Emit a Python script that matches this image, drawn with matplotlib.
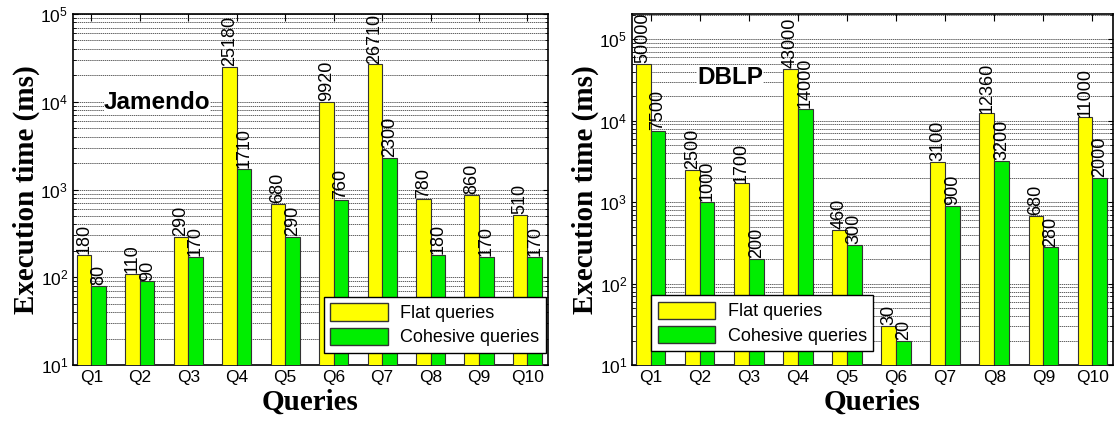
import numpy as np
from matplotlib import pyplot as plt
from matplotlib.patches import Patch

queries = ["Q1", "Q2", "Q3", "Q4", "Q5", "Q6", "Q7", "Q8", "Q9", "Q10"]
jamendo_flat = [180, 110, 290, 25180, 680, 9920, 26710, 780, 860, 510]
jamendo_cohesive = [80, 90, 170, 1710, 290, 760, 2300, 180, 170, 170]
dblp_flat = [50000, 2500, 1700, 43000, 460, 30, 3100, 12360, 680, 11000]
dblp_cohesive = [7500, 1000, 200, 14000, 300, 20, 900, 3200, 280, 2000]

plt.rcParams["font.family"] = ["Liberation Sans", "DejaVu Sans"]

YELLOW = "#ffff00"
GREEN = "#00ee00"
W = 0.3


def draw(ax, flat, cohesive, name, name_xy, ylim, leg_anchor):
    x = np.arange(1, len(queries) + 1)
    ax.bar(x - W / 2, flat, W, color=YELLOW, edgecolor="#333333", linewidth=0.8, zorder=3)
    ax.bar(x + W / 2, cohesive, W, color=GREEN, edgecolor="#333333", linewidth=0.8, zorder=3)
    for xi, v in zip(x, flat):
        ax.text(xi - W / 2, v * 1.02, str(v), rotation=90, ha="center", va="bottom", fontsize=13, zorder=4)
    for xi, v in zip(x, cohesive):
        ax.text(xi + W / 2, v * 1.02, str(v), rotation=90, ha="center", va="bottom", fontsize=13, zorder=4)
    ax.set_yscale("log")
    ax.set_ylim(ylim)
    ax.set_xlim(0.62, 10.42)
    ax.set_xticks(x)
    ax.set_xticklabels(queries, fontsize=12.5)
    ax.tick_params(axis="y", labelsize=12.5)
    ax.tick_params(which="both", direction="in", top=True, right=True)
    ax.tick_params(axis="x", length=5)
    ax.yaxis.grid(True, which="both", color="#222222", linestyle=(0, (2, 1)), linewidth=0.5, zorder=0)
    for s in ax.spines.values():
        s.set_linewidth(1.2)
    ax.set_xlabel("Queries", family="Liberation Serif", fontweight="bold", fontsize=21, labelpad=3)
    ax.set_ylabel("Execution time (ms)", family="Liberation Serif", fontweight="bold", fontsize=21, labelpad=0)
    ax.text(name_xy[0], name_xy[1], name, transform=ax.transAxes, fontsize=17.5, fontweight="bold", zorder=5,
            bbox=dict(facecolor="white", edgecolor="none", pad=0))
    handles = [Patch(facecolor=YELLOW, edgecolor="#333333", label="Flat queries"),
               Patch(facecolor=GREEN, edgecolor="#333333", label="Cohesive queries")]
    leg = ax.legend(handles=handles, loc="lower left", bbox_to_anchor=leg_anchor, fontsize=13,
                    fancybox=False, framealpha=1, edgecolor="black", handlelength=3.2, handleheight=1.1,
                    borderpad=0.35, labelspacing=0.3, handletextpad=0.7, borderaxespad=0)
    leg.get_frame().set_linewidth(1.0)
    leg.set_zorder(6)


fig = plt.figure(figsize=(11.18, 4.23), dpi=100)
ax1 = fig.add_axes([0.0653, 0.137, 0.4247, 0.830])
ax2 = fig.add_axes([0.5653, 0.137, 0.4302, 0.830])

draw(ax1, jamendo_flat, jamendo_cohesive, "Jamendo", (0.065, 0.73), (10, 1e5), (0.528, 0.035))
draw(ax2, dblp_flat, dblp_cohesive, "DBLP", (0.135, 0.8), (10, 2.05e5), (0.04, 0.04))

fig.savefig("out.png", dpi=100)
